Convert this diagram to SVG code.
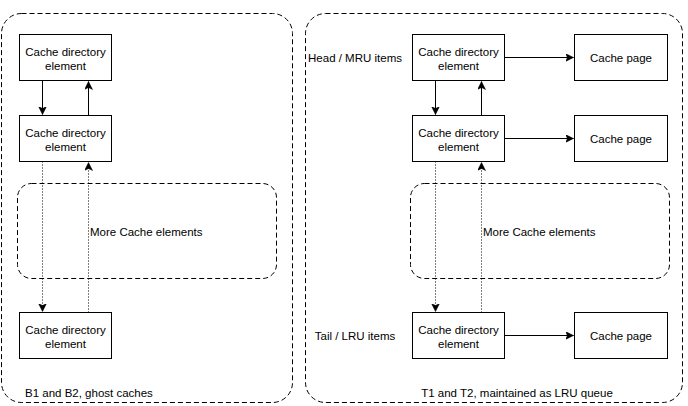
<svg xmlns="http://www.w3.org/2000/svg" width="688" height="406" viewBox="0 0 688 406">
<style>
text{font-family:"Liberation Sans",Arial,sans-serif;font-size:11.5px;fill:#000}
.box{fill:#fff;stroke:#000;stroke-width:1}
.grp{fill:none;stroke:#000;stroke-width:1;stroke-dasharray:5 3}
.c{text-anchor:middle}
.ln{fill:none;stroke:#000;stroke-width:1}
.dot{fill:none;stroke:#000;stroke-width:1;stroke-dasharray:1 2}
</style>
<defs>
<marker id="ah" markerWidth="10" markerHeight="10" refX="8" refY="4" orient="auto" markerUnits="userSpaceOnUse">
<path d="M0,0 L8,4 L0,8 L2,4 Z" fill="#000" stroke="#000" stroke-width="0.5"/>
</marker>
</defs>
<g id="container-left"><rect class="grp" x="1.5" y="13.5" width="291" height="389" rx="20"/><text x="25" y="397">B1 and B2, ghost caches</text></g>
<g id="container-right"><rect class="grp" x="305.5" y="13.5" width="377" height="389" rx="20"/><text class="c" x="517" y="397">T1 and T2, maintained as LRU queue</text></g>
<g id="more-left"><rect class="grp" x="17.5" y="183.5" width="259" height="95" rx="14"/><text x="90" y="236">More Cache elements</text></g>
<g id="more-right"><rect class="grp" x="410.5" y="183.5" width="259" height="95" rx="14"/><text x="483" y="236">More Cache elements</text></g>
<g id="l1"><rect class="box" x="19.5" y="34.5" width="92" height="46"/><text class="c" x="65.5" y="56">Cache directory</text><text class="c" x="65.5" y="69.5">element</text></g>
<g id="l2"><rect class="box" x="19.5" y="115.5" width="92" height="46"/><text class="c" x="65.5" y="137">Cache directory</text><text class="c" x="65.5" y="150.5">element</text></g>
<g id="l3"><rect class="box" x="19.5" y="312.5" width="92" height="46"/><text class="c" x="65.5" y="334">Cache directory</text><text class="c" x="65.5" y="347.5">element</text></g>
<g id="r1"><rect class="box" x="412.5" y="34.5" width="92" height="46"/><text class="c" x="458.5" y="56">Cache directory</text><text class="c" x="458.5" y="69.5">element</text></g>
<g id="r2"><rect class="box" x="412.5" y="115.5" width="92" height="46"/><text class="c" x="458.5" y="137">Cache directory</text><text class="c" x="458.5" y="150.5">element</text></g>
<g id="r3"><rect class="box" x="412.5" y="312.5" width="92" height="46"/><text class="c" x="458.5" y="334">Cache directory</text><text class="c" x="458.5" y="347.5">element</text></g>
<g id="p1"><rect class="box" x="574.5" y="34.5" width="93" height="46"/><text class="c" x="621" y="62">Cache page</text></g>
<g id="p2"><rect class="box" x="574.5" y="115.5" width="93" height="46"/><text class="c" x="621" y="143">Cache page</text></g>
<g id="p3"><rect class="box" x="574.5" y="312.5" width="93" height="46"/><text class="c" x="621" y="340">Cache page</text></g>
<g id="head-label"><text class="c" x="355" y="62">Head / MRU items</text></g>
<g id="tail-label"><text class="c" x="355" y="340">Tail / LRU items</text></g>
<g id="connectors">
<path class="ln" d="M42.5,80.5 V114.5" marker-end="url(#ah)"/>
<path class="ln" d="M88.5,115.5 V81.5" marker-end="url(#ah)"/>
<path class="dot" d="M42.5,161.5 V311.5" marker-end="url(#ah)"/>
<path class="dot" d="M88.5,312.5 V162.5" marker-end="url(#ah)"/>
<path class="ln" d="M435.5,80.5 V114.5" marker-end="url(#ah)"/>
<path class="ln" d="M481.5,115.5 V81.5" marker-end="url(#ah)"/>
<path class="dot" d="M435.5,161.5 V311.5" marker-end="url(#ah)"/>
<path class="dot" d="M481.5,312.5 V162.5" marker-end="url(#ah)"/>
<path class="ln" d="M504.5,57.5 H573.5" marker-end="url(#ah)"/>
<path class="ln" d="M504.5,138.5 H573.5" marker-end="url(#ah)"/>
<path class="ln" d="M504.5,335.5 H573.5" marker-end="url(#ah)"/>
</g>
</svg>
